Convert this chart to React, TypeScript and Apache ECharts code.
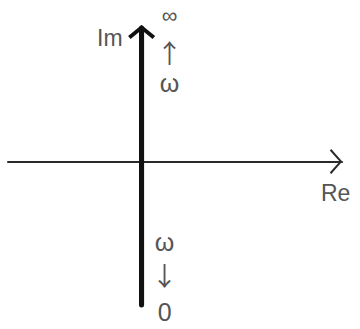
import React, { useEffect, useRef } from "react";
import * as echarts from "echarts";

// Real axis (Re) range and imaginary axis (Im) range
const reRange = [-4, 6];
const imRange = [-1, 0.93];

// ω locus on the imaginary axis: from ω = 0 (bottom) to ω = ∞ (top)
const omegaRe = [0, 0];
const omegaIm = [-1, 0.93];
const omegaTags = ["{w|ω}\n{b|↓}\n{z|0}", "{i|∞}\n{b|↑}\n{w|ω}"];

const axisNames = { re: "Re", im: "Im" };

const thinArrow = "path://M12.5,0 L25,11 L23.5,12.5 L12.5,2.6 L1.5,12.5 L0,11 Z";
const thickArrow = "path://M13.5,0 L27,11 L24.5,14 L13.5,5 L2.5,14 L0,11 Z";

const FONT = "'Liberation Sans', Arial, sans-serif";
const ARROW_FONT = "'Noto Sans CJK JP', 'DejaVu Sans', sans-serif";
const TEXT = "#555";

export default function App() {
  const ref = useRef<HTMLDivElement>(null);
  useEffect(() => {
    if (!ref.current) return;
    const chart = echarts.init(ref.current, null, { renderer: "svg" });
    const rich = {
      w: { fontSize: 25, lineHeight: 26, color: TEXT, fontFamily: FONT },
      b: { fontSize: 26, lineHeight: 38, color: TEXT, fontFamily: ARROW_FONT },
      z: { fontSize: 25, lineHeight: 38, color: TEXT, fontFamily: FONT },
      i: { fontSize: 22, lineHeight: 34, color: TEXT, fontFamily: FONT },
    };
    const labelPos: [number, number][] = [
      [24, -75],
      [29, -29],
    ];
    chart.setOption({
      animation: false,
      backgroundColor: "#fff",
      grid: { left: 8, right: 18, top: 28, bottom: 24, containLabel: false },
      xAxis: {
        type: "value",
        min: reRange[0],
        max: reRange[1],
        name: axisNames.re,
        nameLocation: "end",
        nameGap: -21,
        nameTextStyle: {
          fontSize: 23,
          color: TEXT,
          fontFamily: FONT,
          align: "left",
          verticalAlign: "top",
          padding: [20, 0, 0, 0],
        },
        axisLine: {
          show: true,
          onZero: true,
          symbol: ["none", thinArrow],
          symbolSize: [25, 12.5],
          symbolOffset: [0, -6],
          lineStyle: { color: "#2a2a2a", width: 2 },
        },
        axisTick: { show: false },
        axisLabel: { show: false },
        splitLine: { show: false },
      },
      yAxis: {
        type: "value",
        min: imRange[0],
        max: imRange[1],
        name: axisNames.im,
        nameLocation: "end",
        nameGap: -21,
        nameTextStyle: {
          fontSize: 23,
          color: TEXT,
          fontFamily: FONT,
          align: "right",
          verticalAlign: "bottom",
          padding: [0, 19, 0, 0],
        },
        axisLine: {
          show: true,
          onZero: true,
          symbol: ["none", thickArrow],
          symbolSize: [27, 14],
          symbolOffset: [0, -4],
          lineStyle: { color: "#111", width: 5 },
        },
        axisTick: { show: false },
        axisLabel: { show: false },
        splitLine: { show: false },
      },
      series: [
        {
          type: "line",
          symbol: "circle",
          symbolSize: 2,
          itemStyle: { color: "#111" },
          lineStyle: { color: "#111", width: 5 },
          data: omegaIm.map((im, i) => ({
            value: [omegaRe[i], im],
            label: {
              show: true,
              formatter: omegaTags[i],
              position: labelPos[i],
              align: "center",
              verticalAlign: "top",
              rich,
            },
          })),
        },
      ],
    });
    return () => chart.dispose();
  }, []);
  return (
    <div
      ref={ref}
      style={{ position: "fixed", left: 0, top: 0, width: 360, height: 329 }}
    />
  );
}
